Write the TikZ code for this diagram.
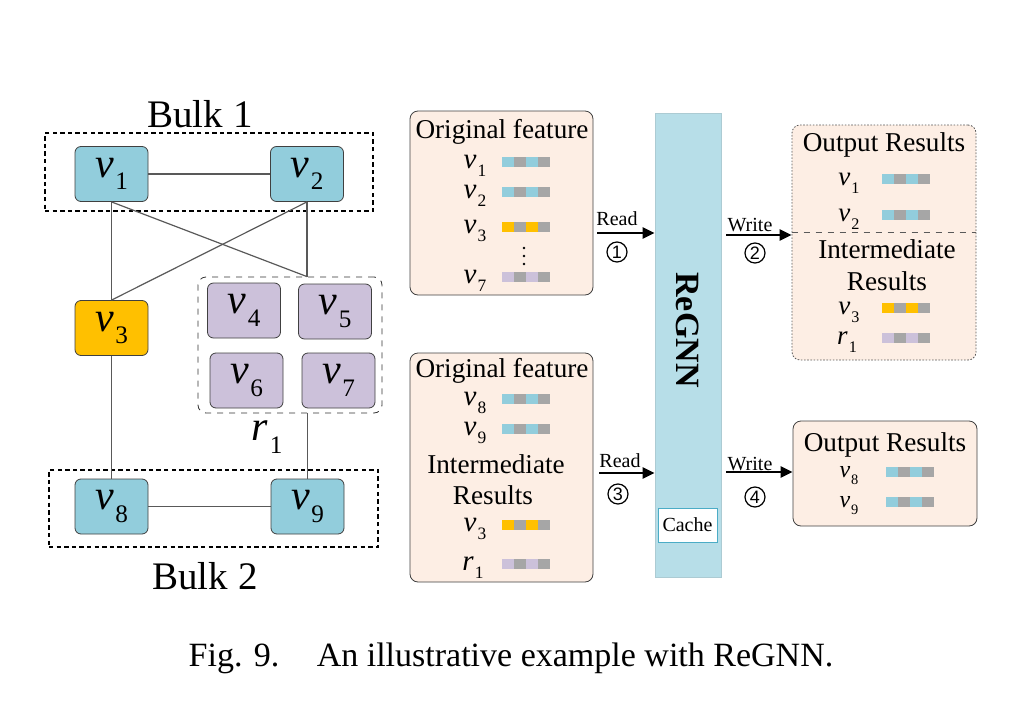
\documentclass[tikz,border=0pt]{standalone}
\usepackage{fontspec}
\setmainfont{Liberation Serif}
\setsansfont{Liberation Sans}
\usepackage{xcolor}
\usepackage{tikz}
\usetikzlibrary{arrows.meta}

\definecolor{nblue}{HTML}{92CDDC}
\definecolor{norange}{HTML}{FFC000}
\definecolor{nlav}{HTML}{CCC1DA}
\definecolor{peach}{HTML}{FDEEE4}
\definecolor{gnnblue}{HTML}{B7DEE8}
\definecolor{barg}{HTML}{A6A6A6}
\definecolor{edgeg}{HTML}{595959}
\definecolor{cacheb}{HTML}{4BACC6}

\newcommand{\vsub}[2]{\textit{#1}\kern0.04em\raisebox{-0.3em}{\scalebox{0.6}{#2}}}
\newcommand{\fbar}[3]{%
  \fill[#3] ({#1},{#2-5}) rectangle +(12,10);
  \fill[barg] ({#1+12},{#2-5}) rectangle +(12,10);
  \fill[#3] ({#1+24},{#2-5}) rectangle +(12,10);
  \fill[barg] ({#1+36},{#2-5}) rectangle +(12,10);}

\begin{document}
\begin{tikzpicture}[x=0.5pt,y=-0.5pt,
  vnode/.style={draw=black!75, rounded corners=3pt, minimum width=36.5pt, minimum height=27.5pt, inner sep=0pt, font=\fontsize{21}{24}\selectfont},
  bulk/.style={draw, line width=1.2pt, dash pattern=on 2.2pt off 1.6pt, inner sep=0pt},
  bulklab/.style={font=\fontsize{19.5}{22}\selectfont},
  rgroup/.style={draw=black!80, dashed, rounded corners=4pt, inner sep=0pt},
  edge/.style={draw=edgeg, line width=0.6pt},
  fbox/.style={draw=black!75, fill=peach, rounded corners=4pt, inner sep=0pt},
  btxt/.style={font=\fontsize{13.6}{16}\selectfont, inner sep=0pt},
  flab/.style={anchor=base, inner sep=0pt, font=\fontsize{14.5}{16}\selectfont},
  rwlab/.style={font=\fontsize{10}{12}\selectfont, inner sep=0pt},
  cnum/.style={draw, circle, line width=0.6pt, inner sep=0pt, minimum size=10pt, font=\sffamily\fontsize{9}{10}\selectfont},
  rwarrow/.style={line width=1.4pt, -{Triangle[length=6pt,width=5.5pt]}}]
\useasboundingbox (0,0) rectangle (1024,702);

\node[bulk, minimum width=164pt, minimum height=39pt] (bulk1) at (209,172) {};
\node[bulk, minimum width=164.5pt, minimum height=38.5pt] (bulk2) at (213.5,508.5) {};
\node[bulklab] (b1lab) at (200,114) {Bulk 1};
\node[bulklab] (b2lab) at (205,576) {Bulk 2};
\node[rgroup, minimum width=92pt, minimum height=68pt] (r1) at (290,345) {};
\node[vnode, fill=nblue] (v1) at (111.5,174) {\vsub{v}{1}};
\node[vnode, fill=nblue] (v2) at (307,174) {\vsub{v}{2}};
\node[vnode, fill=norange] (v3) at (111.5,328) {\vsub{v}{3}};
\node[vnode, fill=nlav] (v4) at (244,310.5) {\vsub{v}{4}};
\node[vnode, fill=nlav] (v5) at (335,311.5) {\vsub{v}{5}};
\node[vnode, fill=nlav] (v6) at (246.5,380.5) {\vsub{v}{6}};
\node[vnode, fill=nlav] (v7) at (338.5,380.5) {\vsub{v}{7}};
\node[vnode, fill=nblue] (v8) at (111.5,506.5) {\vsub{v}{8}};
\node[vnode, fill=nblue] (v9) at (307.5,506.5) {\vsub{v}{9}};
\node[font=\fontsize{21}{24}\selectfont] (r1lab) at (267,437) {\vsub{r}{1}};

\draw[edge] (v1) -- (v2);
\draw[edge] (v1.south) -- (v3.north);
\draw[edge] (v1.south) -- (v2.south |- r1.north);
\draw[edge] (v2.south) -- (v2.south |- r1.north);
\draw[edge] (v2.south) -- (v3.north);
\draw[edge] (v3) -- (v8);
\draw[edge] (v9.north |- r1.south) -- (v9.north);
\draw[edge] (v8) -- (v9);

\node[fbox, minimum width=91.5pt, minimum height=92pt] (boxa) at (501.5,203) {};
\node[fbox, minimum width=91.5pt, minimum height=114.5pt] (boxb) at (501.5,467.5) {};
\node[fbox, draw=black!65, dash pattern=on 0.8pt off 0.8pt, minimum width=92pt, minimum height=117.5pt] (boxc) at (884,242.5) {};
\node[fbox, minimum width=92pt, minimum height=52.5pt] (boxd) at (885,473.5) {};
\node[draw=gnnblue!80!gray, fill=gnnblue, minimum width=33pt, minimum height=232pt, inner sep=0pt] (gnn) at (688,345) {};
\node[rotate=-90, font=\bfseries\fontsize{17}{20}\selectfont] (gnnlab) at (688,330) {ReGNN};
\node[draw=cacheb, fill=white, minimum width=29.5pt, minimum height=17pt, inner sep=0pt, font=\fontsize{10}{12}\selectfont] (cache) at (687.5,525) {Cache};

\node[btxt] (ta) at (502,132) {Original feature};
\foreach \n/\yy/\col in {1/162/nblue,2/192/nblue,3/227/norange,7/277/nlav}{
  \node[flab] (fa\n) at (475,\yy+6) {\vsub{v}{\n}};
  \fbar{502}{\yy}{\col}
}
\foreach \yy in {248,256,264}
  \fill (524,\yy) circle (1.4);

\node[btxt] (tb) at (502,371) {Original feature};
\foreach \n/\yy in {8/399,9/429}{
  \node[flab] (fb\n) at (475,\yy+6) {\vsub{v}{\n}};
  \fbar{502}{\yy}{nblue}
}
\node[btxt] (ib) at (496,464) {Intermediate};
\node[btxt] (rb) at (493,495) {Results};
\node[flab] (fb3) at (475,531) {\vsub{v}{3}};
\fbar{502}{525}{norange}
\node[flab] (fbr) at (473,570) {\vsub{r}{1}};
\fbar{502}{564}{nlav}

\node[btxt] (tc) at (884,145) {Output Results};
\foreach \n/\yy in {1/179,2/215}{
  \node[flab, font=\fontsize{13.5}{15}\selectfont] (fc\n) at (849,\yy+6) {\vsub{v}{\n}};
  \fbar{882}{\yy}{nblue}
}
\coordinate (cdiv) at (884,232);
\draw[black!65, dashed] (cdiv -| boxc.west) -- (cdiv -| boxc.east);
\node[btxt] (ic) at (887,249) {Intermediate};
\node[btxt] (rc) at (887,281) {Results};
\node[flab, font=\fontsize{13.5}{15}\selectfont] (fc3) at (849,314) {\vsub{v}{3}};
\fbar{882}{308}{norange}
\node[flab, font=\fontsize{13.5}{15}\selectfont] (fcr) at (847,344) {\vsub{r}{1}};
\fbar{882}{338}{nlav}

\node[btxt] (td) at (885,445) {Output Results};
\foreach \n/\yy in {8/472,9/502}{
  \node[flab, font=\fontsize{12}{14}\selectfont] (fd\n) at (849,\yy+5) {\vsub{v}{\n}};
  \fbar{886}{\yy}{nblue}
}

\coordinate (rd1s) at (597,233);
\draw[rwarrow] (rd1s) -- (rd1s -| gnn.west);
\node[rwlab] (rd1) at (617,219) {Read};
\node[cnum] (c1) at (617,252) {1};
\coordinate (rd3s) at (599,473);
\draw[rwarrow] (rd3s) -- (rd3s -| gnn.west);
\node[rwlab] (rd3) at (620,461) {Read};
\node[cnum] (c3) at (618,494) {3};
\coordinate (wr2s) at (726,235);
\draw[rwarrow] (wr2s) -- (wr2s -| boxc.west);
\node[rwlab] (wr2) at (750,225) {Write};
\node[cnum] (c2) at (755,253) {2};
\coordinate (wr4s) at (726,472);
\draw[rwarrow] (wr4s) -- (wr4s -| boxd.west);
\node[rwlab] (wr4) at (750,464) {Write};
\node[cnum] (c4) at (755,497) {4};

\node[font=\fontsize{17}{20}\selectfont] (cap) at (511,658) {Fig. 9.\hspace{1.1em}An illustrative example with ReGNN.};
\end{tikzpicture}
\end{document}
